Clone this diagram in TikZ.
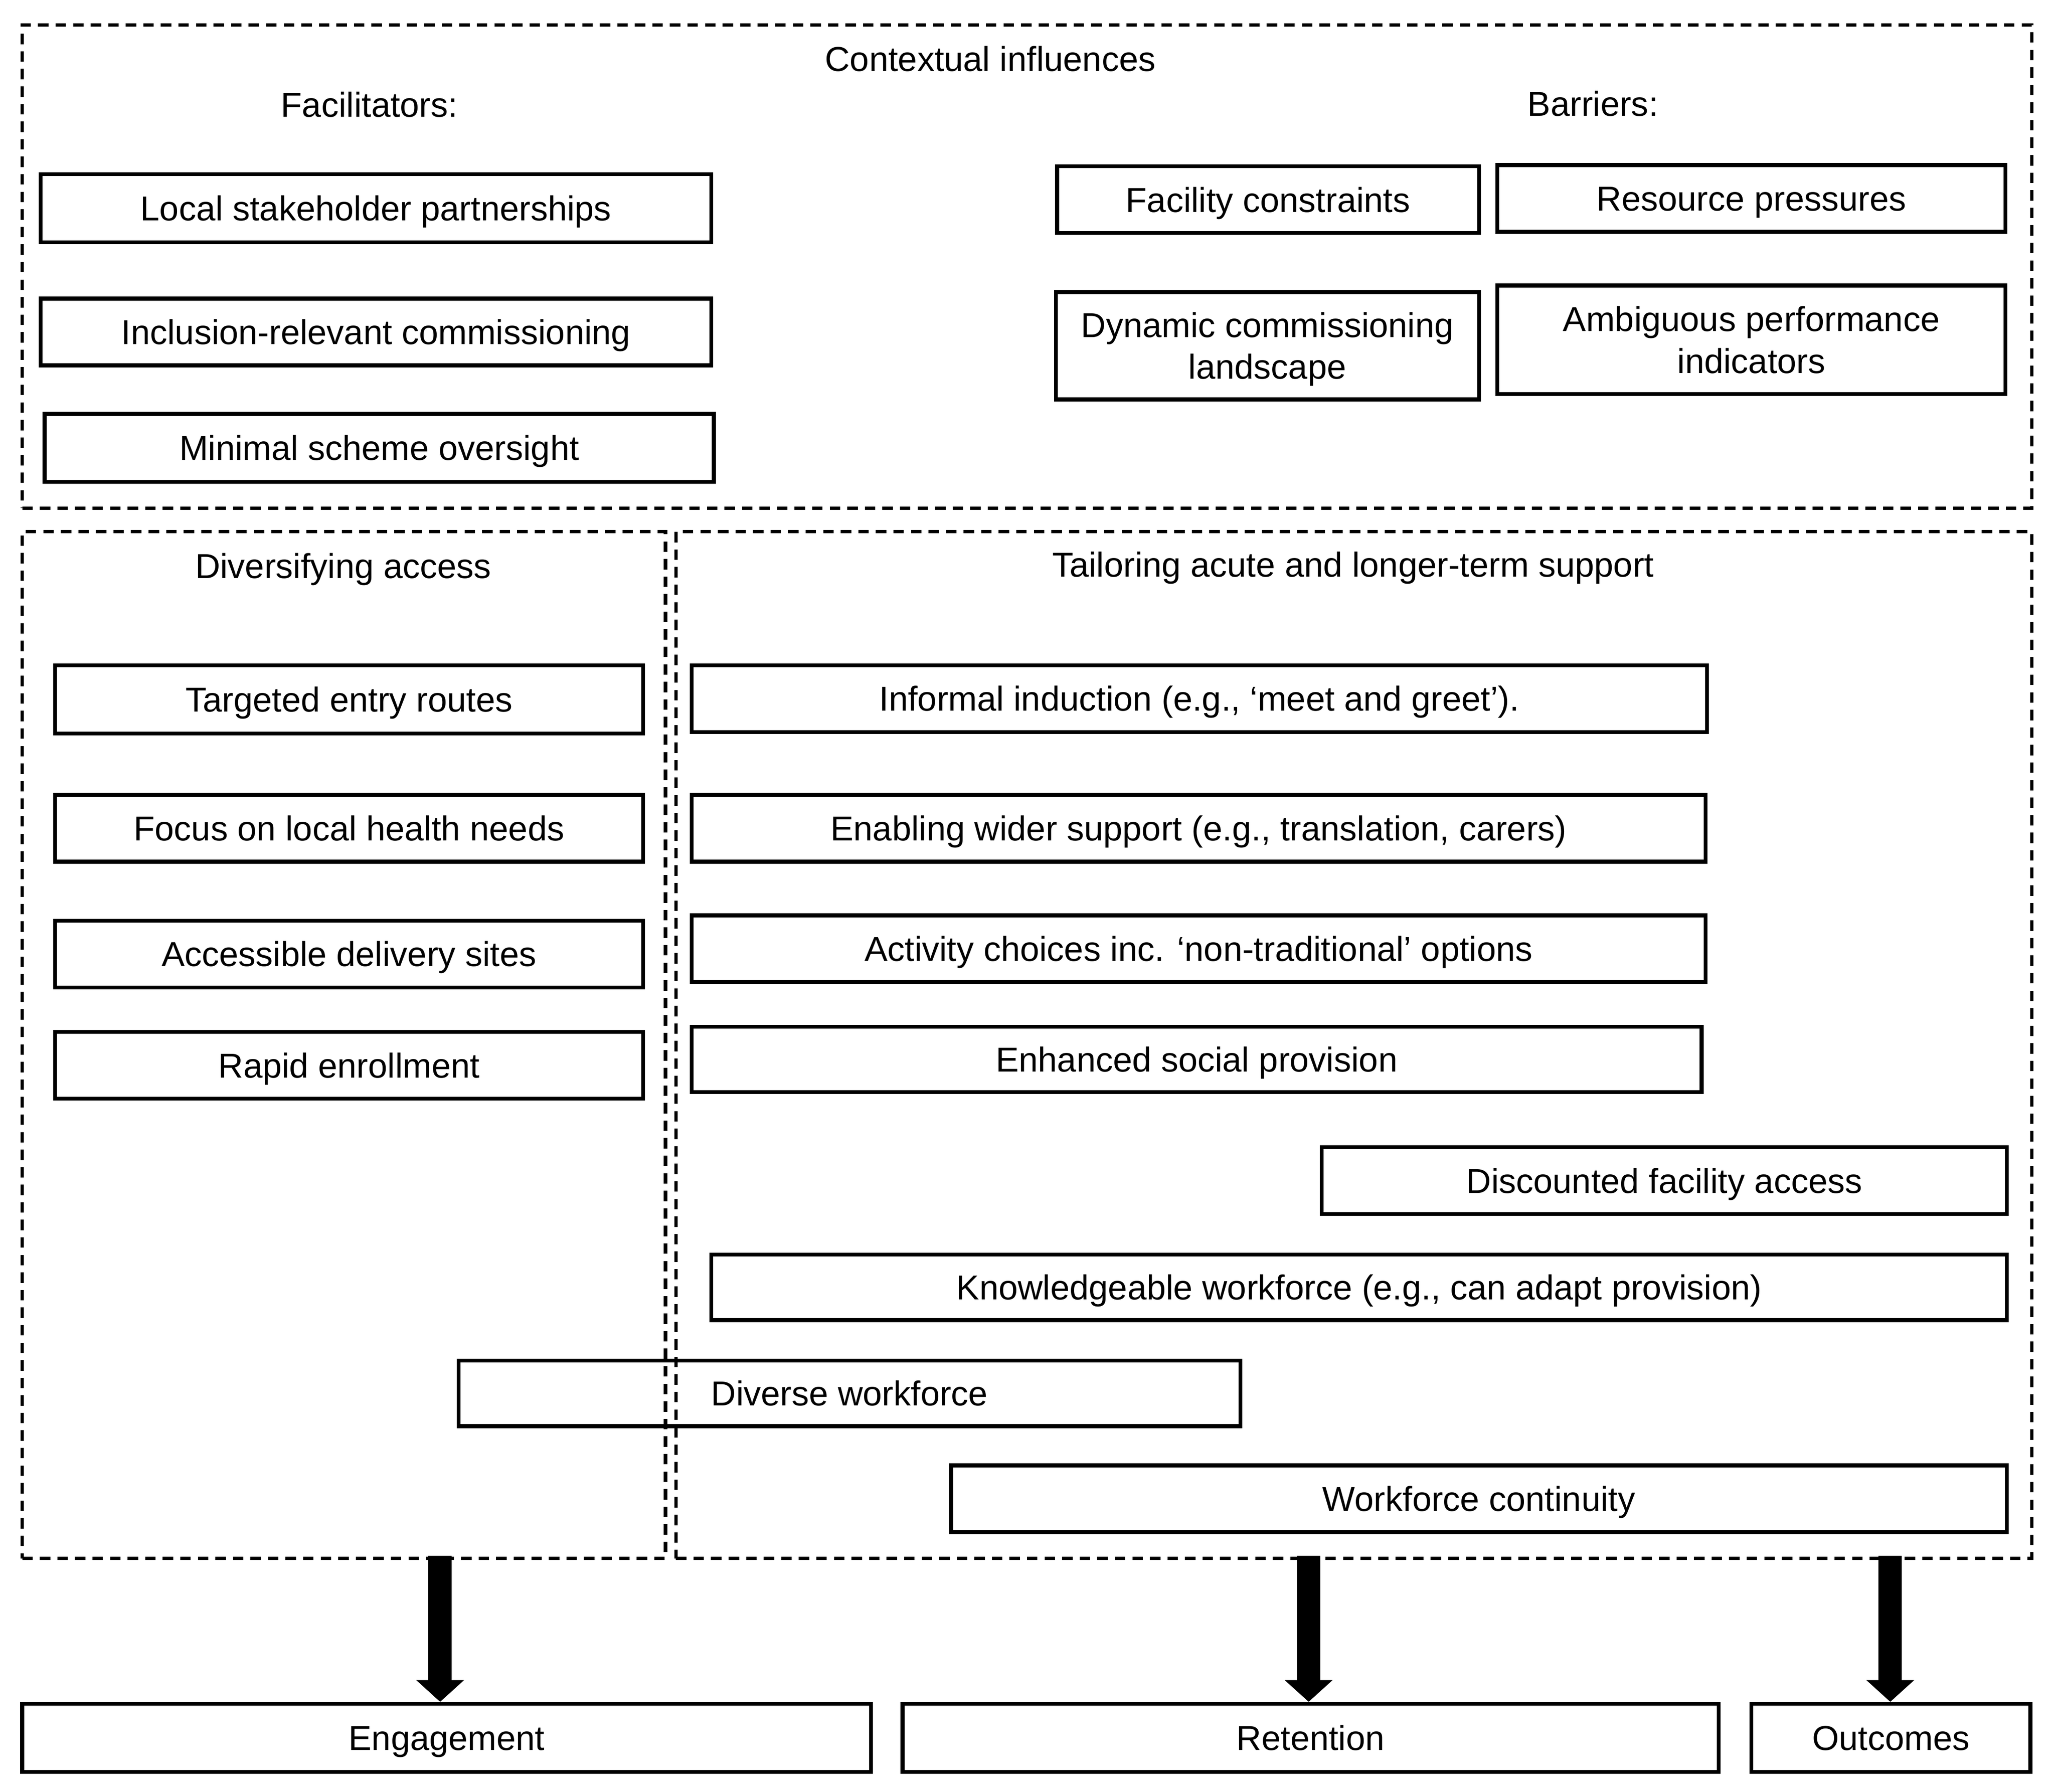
\documentclass[tikz,border=0pt]{standalone}
\usepackage{fontspec}
\setmainfont{Liberation Sans}
\usetikzlibrary{arrows.meta}
\tikzset{
  txt/.style={font=\fontsize{13.2}{16}\selectfont},
  box/.style={draw, line width=1.5pt, rectangle, inner sep=0pt, align=center, txt, text height=9.45pt, text depth=0pt},
  twoline/.style={text height=25.45pt, text depth=0pt},
  group/.style={draw, line width=1.3pt, dash pattern=on 4pt off 2.7pt, rectangle, inner sep=0pt},
  lbl/.style={txt, inner sep=0pt, text height=9.45pt, text depth=0pt},
  bigarrow/.style={line width=8.9pt, -{Triangle[width=17.8pt,length=8.3pt]}}
}
\newcommand\rct[7]{\node[#1, minimum width={(#5-#3)*0.5pt}, minimum height={(#6-#4)*0.5pt}] (#2) at ({(#3+#5)/2},{(#4+#6)/2}) {#7};}
\begin{document}
\begin{tikzpicture}[x=0.5pt, y=-0.5pt]
\useasboundingbox (0,0) rectangle (1568,1368);
% groups
\rct{group}{ctx}{17}{19}{1551}{388}{}
\rct{group}{grpL}{17}{406}{508}{1190}{}
\rct{group}{grpR}{516}{406}{1551}{1190}{}
% headings
\node[lbl] (hctx) at (756,45) {Contextual influences};
\node[lbl] (hfac) at (282,80) {Facilitators:};
\node[lbl] (hbar) at (1216,79) {Barriers:};
\node[lbl] (hdiv) at (262,432) {Diversifying access};
\node[lbl] (htai) at (1033,431) {Tailoring acute and longer-term support};
% facilitators
\rct{box}{f1}{31}{133}{543}{185}{Local stakeholder partnerships}
\rct{box}{f2}{31}{228}{543}{279}{Inclusion-relevant commissioning}
\rct{box}{f3}{34}{316}{545}{368}{Minimal scheme oversight}
% barriers
\rct{box}{b1}{807}{127}{1129}{178}{Facility constraints}
\rct{box}{b2}{1143}{126}{1531}{177}{Resource pressures}
\rct{box,twoline}{b3}{806}{223}{1129}{305}{Dynamic commissioning\\landscape}
\rct{box,twoline}{b4}{1143}{218}{1531}{301}{Ambiguous performance\\indicators}
% diversifying access
\rct{box}{d1}{42}{508}{491}{560}{Targeted entry routes}
\rct{box}{d2}{42}{607}{491}{658}{Focus on local health needs}
\rct{box}{d3}{42}{703}{491}{754}{Accessible delivery sites}
\rct{box}{d4}{42}{788}{491}{839}{Rapid enrollment}
% tailoring
\rct{box}{t1}{528}{508}{1303}{559}{Informal induction (e.g., ‘meet and greet’).}
\rct{box}{t2}{528}{607}{1302}{658}{Enabling wider support (e.g., translation, carers)}
\rct{box}{t3}{528}{699}{1302}{750}{Activity choices inc. ‘non-traditional’ options}
\rct{box}{t4}{528}{784}{1299}{834}{Enhanced social provision}
\rct{box}{t5}{1009}{876}{1532}{927}{Discounted facility access}
\rct{box}{t6}{543}{958}{1532}{1008}{Knowledgeable workforce (e.g., can adapt provision)}
\rct{box}{t7}{350}{1039}{947}{1089}{Diverse workforce}
\rct{box}{t8}{726}{1119}{1532}{1170}{Workforce continuity}
% outcomes
\rct{box}{eng}{17}{1301}{665}{1353}{Engagement}
\rct{box}{ret}{689}{1301}{1312}{1353}{Retention}
\rct{box}{out}{1337}{1301}{1550}{1353}{Outcomes}
% arrows
\coordinate (a1) at (336,1188);
\coordinate (a2) at (999,1188);
\coordinate (a3) at (1443,1188);
\draw[bigarrow] (a1) -- (a1 |- eng.north);
\draw[bigarrow] (a2) -- (a2 |- ret.north);
\draw[bigarrow] (a3) -- (a3 |- out.north);
\end{tikzpicture}
\end{document}
